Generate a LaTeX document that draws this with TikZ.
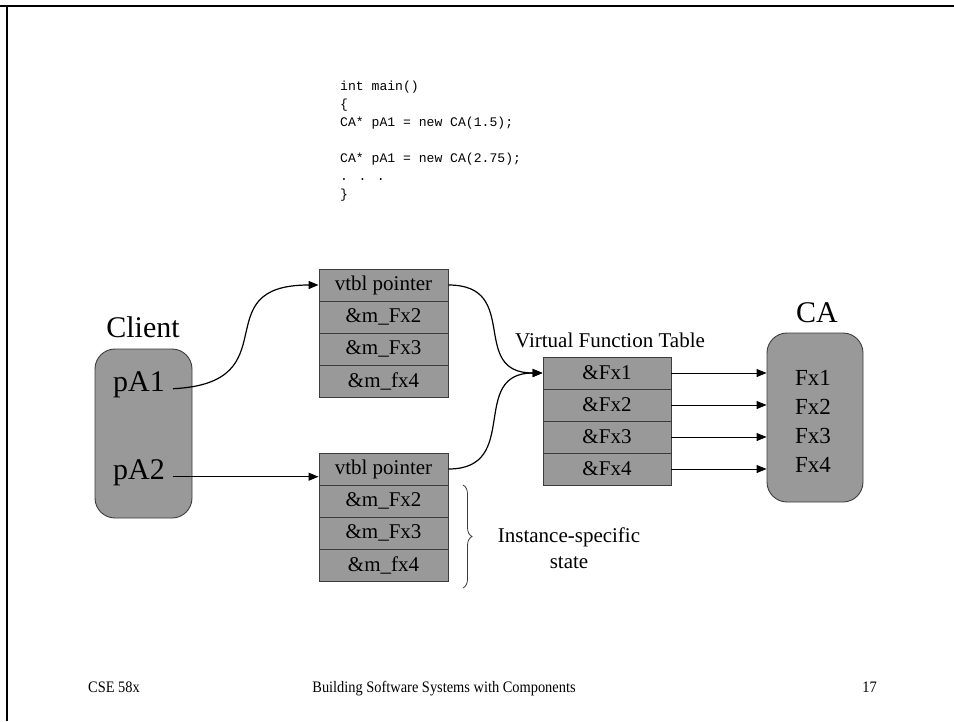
\documentclass[tikz,border=0pt]{standalone}
\usepackage{fontspec}
\setmainfont{Liberation Serif}
\newfontfamily\codefont{Liberation Mono}
\newfontfamily\footfont[FakeStretch=0.9]{Liberation Serif}
\usetikzlibrary{arrows.meta,decorations.pathreplacing}

\definecolor{boxgray}{RGB}{153,153,153}
\definecolor{edgegray}{RGB}{60,60,60}

\tikzset{
  cell/.style={draw=edgegray, line width=0.9pt, fill=boxgray, minimum width=129pt,
    minimum height=32pt, inner sep=0pt, font=\fontsize{21}{24}\selectfont},
  roundbox/.style={draw=edgegray, line width=0.9pt, fill=boxgray, rounded corners=20pt,
    inner sep=0pt},
  bigtext/.style={font=\fontsize{30}{34}\selectfont, inner sep=0pt},
  fxtext/.style={font=\fontsize{23}{26}\selectfont, inner sep=0pt, anchor=base},
  codeline/.style={font=\codefont\fontsize{13.1}{16}\selectfont, anchor=base west, inner sep=0pt},
  foottext/.style={font=\footfont\fontsize{16}{18}\selectfont, inner sep=0pt},
  link/.style={line width=1pt, -{Triangle[length=10pt,width=8pt]}},
  curvelink/.style={line width=1.2pt, -{Triangle[length=10pt,width=8pt]}},
}

\begin{document}
\begin{tikzpicture}[x=1pt,y=-1pt]
\useasboundingbox (0,0) rectangle (954,721);
\fill[white] (0,0) rectangle (954,721);

% slide frame: top and left rules
\draw[line width=2pt] (0,6) -- (954,6);
\draw[line width=2pt] (6.5,5) -- (6.5,721);

% code fragment
\node[codeline] (c1) at (340,90) {int main()};
\node[codeline] (c2) at (340,108) {\{};
\node[codeline] (c3) at (340,126) {CA* pA1 = new CA(1.5);};
\node[codeline] (c4) at (340,162) {CA* pA1 = new CA(2.75);};
\node[codeline] (c5) at (340,180) {. . .};
\node[codeline] (c6) at (340,198) {\}};

% client
\node[bigtext, anchor=base] (clientlbl) at (143,337) {Client};
\node[roundbox, minimum width=97pt, minimum height=169pt] (client) at (143.5,433.5) {};
\node[bigtext, anchor=base, inner xsep=8pt] (pa1) at (139,391) {pA1};
\node[bigtext, anchor=base, inner xsep=8pt] (pa2) at (139,479) {pA2};

% first object
\node[cell] (a1) at (383.5,285) {vtbl pointer};
\node[cell] (a2) at (383.5,317) {\&m\_Fx2};
\node[cell] (a3) at (383.5,349) {\&m\_Fx3};
\node[cell] (a4) at (383.5,381) {\&m\_fx4};

% second object
\node[cell] (b1) at (383.5,469) {vtbl pointer};
\node[cell] (b2) at (383.5,501) {\&m\_Fx2};
\node[cell] (b3) at (383.5,533) {\&m\_Fx3};
\node[cell] (b4) at (383.5,565) {\&m\_fx4};

% virtual function table
\node[font=\fontsize{21}{24}\selectfont, inner sep=0pt, anchor=base] (vftlbl) at (610,347) {Virtual Function Table};
\node[cell, minimum width=128pt] (v1) at (607,373) {\&Fx1};
\node[cell, minimum width=128pt] (v2) at (607,405) {\&Fx2};
\node[cell, minimum width=128pt] (v3) at (607,437) {\&Fx3};
\node[cell, minimum width=128pt] (v4) at (607,469) {\&Fx4};

% class CA
\node[bigtext, anchor=base] (calbl) at (817,322) {CA};
\node[roundbox, minimum width=96pt, minimum height=169pt] (ca) at (815,417.5) {};
\node[fxtext] (fx1) at (813,385) {Fx1};
\node[fxtext] (fx2) at (813,414) {Fx2};
\node[fxtext] (fx3) at (813,443) {Fx3};
\node[fxtext] (fx4) at (813,472) {Fx4};

% pointers from the client to the objects
\draw[curvelink] (pa1.mid east) .. controls (292,383) and (202,285) .. (a1.west);
\draw[link] (pa2.mid east) -- (pa2.mid east -| b1.west);

% vtbl pointers to the shared table
\draw[curvelink] (a1.east) .. controls (522,285) and (468,373) .. (v1.west);
\draw[curvelink] (b1.east) .. controls (522,469) and (468,373) .. (v1.west);

% table entries to the member functions
\draw[link] (v1.east) -- (v1.east -| ca.west);
\draw[link] (v2.east) -- (v2.east -| ca.west);
\draw[link] (v3.east) -- (v3.east -| ca.west);
\draw[link] (v4.east) -- (v4.east -| ca.west);

% instance-specific state
\coordinate (bracetop) at (463,485);
\coordinate (bracebot) at (463,588);
\draw[edgegray, line width=0.8pt, decoration={brace, amplitude=9pt}, decorate] (bracetop) -- (bracebot);
\node[font=\fontsize{21}{26}\selectfont, align=center, inner sep=0pt] (inst) at (569,548) {Instance-specific\\state};

% footer
\node[foottext, anchor=base west] (f1) at (88,692) {CSE 58x};
\node[foottext, anchor=base] (f2) at (444,692) {Building Software Systems with Components};
\node[foottext, anchor=base east] (f3) at (877,692) {17};
\end{tikzpicture}
\end{document}
